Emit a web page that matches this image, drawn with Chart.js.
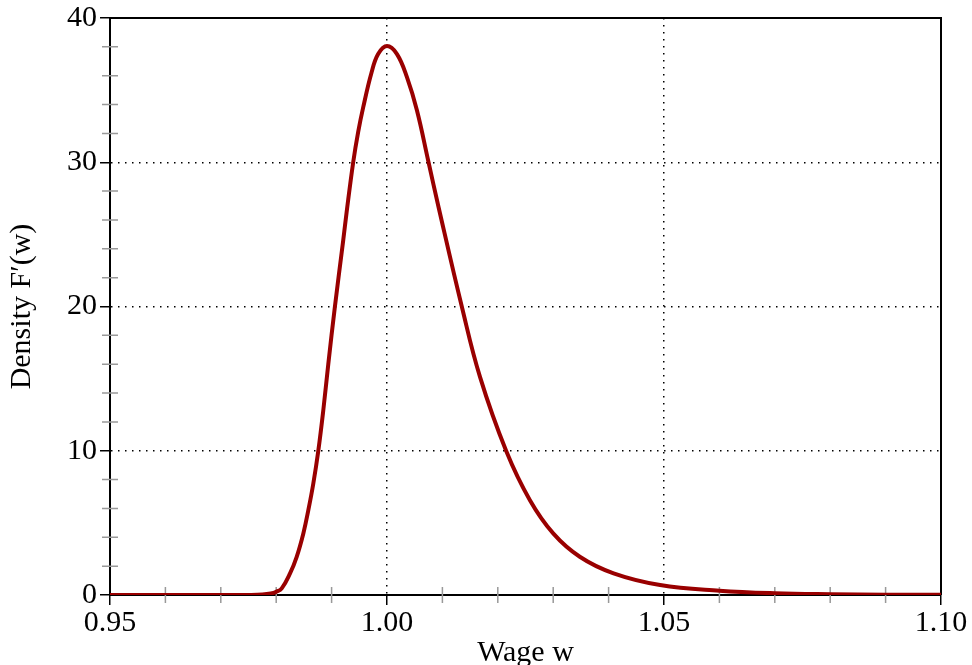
<!DOCTYPE html>
<html><head><meta charset="utf-8">
<script src="https://cdn.jsdelivr.net/npm/chart.js@4/dist/chart.umd.min.js"></script>
<style>html,body{margin:0;padding:0;background:#fff}</style>
</head><body>
<canvas id="c" width="972" height="665"></canvas>
<script>
const wage = [0.95, 0.96, 0.97, 0.975, 0.9775, 0.9790, 0.9800, 0.9810, 0.9825, 0.9837, 0.9849, 0.9858, 0.9867, 0.9876, 0.9885, 0.9894, 0.9906, 0.9921, 0.9927, 0.9939, 0.9948, 0.9957, 0.9972, 0.9984, 1.0000, 1.0018, 1.0036, 1.0054, 1.0075, 1.0093, 1.0135, 1.0168, 1.0215, 1.0258, 1.0300, 1.0348, 1.0409, 1.0493, 1.0600, 1.0700, 1.0800, 1.0900, 1.1000];
const density = [0, 0, 0, 0.005, 0.03, 0.10, 0.22, 0.46, 1.50, 2.65, 4.27, 5.88, 7.73, 10.0, 12.8, 16.0, 20.0, 24.6, 26.5, 30.0, 32.1, 33.8, 36.2, 37.5, 38.06, 37.5, 35.9, 33.6, 30.0, 26.9, 20.0, 15.1, 10.0, 6.57, 4.27, 2.65, 1.50, 0.69, 0.30, 0.12, 0.05, 0.02, 0.01];
const xMajorTicks = [0.95, 1.00, 1.05, 1.10];
const yMajorTicks = [0, 10, 20, 30, 40];
const xMinorTicks = [0.96, 0.97, 0.98, 0.99, 1.01, 1.02, 1.03, 1.04, 1.06, 1.07, 1.08, 1.09];
const yMinorTicks = [2, 4, 6, 8, 12, 14, 16, 18, 22, 24, 26, 28, 32, 34, 36, 38];
const xTitle = 'Wage w';
const yTitle = 'Density F\u2032(w)';

const FAMILY = '"Liberation Serif", "DejaVu Serif", serif';
const edgeX = [0.95, 1.10], edgeY = [0, 40];

const framePlugin = {
  id: 'frame',
  beforeDatasetsDraw(chart) {
    const {ctx, chartArea: a, scales: {x, y}} = chart;
    ctx.save();
    ctx.strokeStyle = '#999';
    ctx.lineWidth = 1.5;
    ctx.beginPath();
    xMinorTicks.forEach(v => {
      const px = x.getPixelForValue(v);
      ctx.moveTo(px, a.bottom - 8); ctx.lineTo(px, a.bottom + 8);
    });
    yMinorTicks.forEach(v => {
      const py = y.getPixelForValue(v);
      ctx.moveTo(a.left - 8, py); ctx.lineTo(a.left + 8, py);
    });
    ctx.stroke();
    ctx.strokeStyle = '#000';
    ctx.lineWidth = 2;
    ctx.beginPath();
    ctx.moveTo(a.left, a.top); ctx.lineTo(a.right, a.top); ctx.lineTo(a.right, a.bottom);
    ctx.stroke();
    ctx.restore();
  }
};

new Chart(document.getElementById('c'), {
  type: 'line',
  data: {
    datasets: [{
      data: wage.map((w, i) => ({x: w, y: density[i]})),
      borderColor: '#990000',
      borderWidth: 4,
      pointRadius: 0,
      tension: 0.4,
      fill: false
    }]
  },
  options: {
    responsive: false,
    animation: false,
    devicePixelRatio: 1,
    layout: {padding: {top: 17, right: 31, left: 0, bottom: 0}},
    plugins: {legend: {display: false}, tooltip: {enabled: false}},
    scales: {
      x: {
        type: 'linear', min: 0.95, max: 1.10,
        afterBuildTicks: s => { s.ticks = xMajorTicks.map(v => ({value: v})); },
        afterFit: s => { s.height = 70; },
        ticks: {callback: v => Number(v).toFixed(2), font: {family: FAMILY, size: 30}, color: '#000', padding: 0, maxRotation: 0, autoSkip: false},
        grid: {
          color: c => (c.tick && edgeX.includes(c.tick.value)) ? 'rgba(0,0,0,0)' : '#000',
          lineWidth: 1.5, tickColor: '#000', tickLength: 10, tickWidth: 1.5
        },
        border: {color: '#000', width: 2, dash: [1.5, 5.5]},
        title: {display: true, text: xTitle, font: {family: FAMILY, size: 30}, color: '#000', padding: {top: 0, bottom: -6}}
      },
      y: {
        type: 'linear', min: 0, max: 40,
        afterBuildTicks: s => { s.ticks = yMajorTicks.map(v => ({value: v})); },
        afterFit: s => { s.width = 110; },
        ticks: {font: {family: FAMILY, size: 30, lineHeight: 1}, color: '#000', padding: 3},
        grid: {
          color: c => (c.tick && edgeY.includes(c.tick.value)) ? 'rgba(0,0,0,0)' : '#000',
          lineWidth: 1.5, tickColor: '#000', tickLength: 10, tickWidth: 1.5
        },
        border: {color: '#000', width: 2, dash: [1.5, 5.5]},
        title: {display: true, text: yTitle, font: {family: FAMILY, size: 30}, color: '#000', padding: {top: 4, bottom: 4}}
      }
    }
  },
  plugins: [framePlugin]
});
</script>
</body></html>
